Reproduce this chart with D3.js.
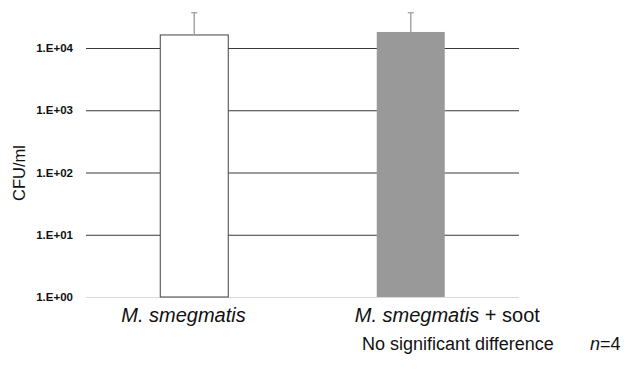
<!DOCTYPE html>
<html>
<head>
<meta charset="utf-8">
<script src="https://cdn.jsdelivr.net/npm/d3@7"></script>
<style>
  body { margin: 0; background: #fff; }
  svg { display: block; font-family: "Liberation Sans", Arial, sans-serif; }
</style>
</head>
<body>
<div id="chart"></div>
<script>
const width = 642;
const height = 373;

// data
const categories = ["M. smegmatis", "M. smegmatis + soot"];
const means = [16200, 18100];
const errors = [20700, 18800];
const tickValues = [1, 10, 100, 1000, 10000];
const tickLabels = ["1.E+00", "1.E+01", "1.E+02", "1.E+03", "1.E+04"];

const left = 86, right = 519;
const svg = d3.select("#chart")
  .append("svg")
  .attr("width", width)
  .attr("height", height);

const x = d3.scalePoint()
  .domain(categories)
  .range([left, right])
  .padding(0.5);

const y = d3.scaleLog()
  .domain([1, 10000])
  .range([297, 48]);

const barWidth = 68;

// gridlines
svg.append("g")
  .selectAll("line")
  .data(tickValues)
  .enter().append("line")
  .attr("x1", left)
  .attr("x2", right)
  .attr("y1", d => y(d) + 0.5)
  .attr("y2", d => y(d) + 0.5)
  .attr("stroke", d => d === 1 ? "#d9d9d9" : "#3a3a3a")
  .attr("stroke-width", 1);

// tick labels
svg.append("g")
  .selectAll("text")
  .data(tickValues)
  .enter().append("text")
  .attr("x", 73)
  .attr("y", d => y(d))
  .attr("dy", "0.35em")
  .attr("text-anchor", "end")
  .attr("font-size", "11.5px")
  .attr("font-weight", "bold")
  .attr("fill", "#111")
  .text((d, i) => tickLabels[i]);

// y title
svg.append("text")
  .attr("transform", "translate(25,173) rotate(-90)")
  .attr("text-anchor", "middle")
  .attr("font-size", "16.5px")
  .attr("fill", "#111")
  .text("CFU/ml");

// bars
svg.append("g")
  .selectAll("rect")
  .data(categories)
  .enter().append("rect")
  .attr("x", d => x(d) - barWidth / 2)
  .attr("y", (d, i) => y(means[i]))
  .attr("width", barWidth)
  .attr("height", (d, i) => y(1) - y(means[i]))
  .attr("fill", (d, i) => i === 0 ? "#ffffff" : "#999999")
  .attr("stroke", (d, i) => i === 0 ? "#404040" : "none")
  .attr("stroke-width", 1);

// error bars (upper only)
const err = svg.append("g")
  .attr("stroke", "#a6a6a6")
  .attr("stroke-width", 1.5);

err.selectAll("line.v")
  .data(categories)
  .enter().append("line")
  .attr("class", "v")
  .attr("x1", d => x(d))
  .attr("x2", d => x(d))
  .attr("y1", (d, i) => y(means[i]))
  .attr("y2", (d, i) => y(means[i] + errors[i]));

err.selectAll("line.cap")
  .data(categories)
  .enter().append("line")
  .attr("class", "cap")
  .attr("x1", d => x(d) - 3)
  .attr("x2", d => x(d) + 3)
  .attr("y1", (d, i) => y(means[i] + errors[i]))
  .attr("y2", (d, i) => y(means[i] + errors[i]));

// category labels
const labelOffsets = [-73, -56];
const cat = svg.append("g")
  .selectAll("text")
  .data(categories)
  .enter().append("text")
  .attr("x", (d, i) => x(d) + labelOffsets[i])
  .attr("y", 322)
  .attr("font-size", "20px")
  .attr("fill", "#111");

cat.append("tspan")
  .attr("font-style", "italic")
  .text("M. smegmatis");
cat.filter((d, i) => i === 1)
  .append("tspan")
  .text(" + soot");

// note
const note = svg.append("text")
  .attr("x", 362)
  .attr("y", 350)
  .attr("font-size", "18px")
  .attr("fill", "#111");
note.append("tspan").text("No significant difference");
note.append("tspan").attr("x", 590).attr("font-style", "italic").text("n");
note.append("tspan").text("=4");
</script>
</body>
</html>
